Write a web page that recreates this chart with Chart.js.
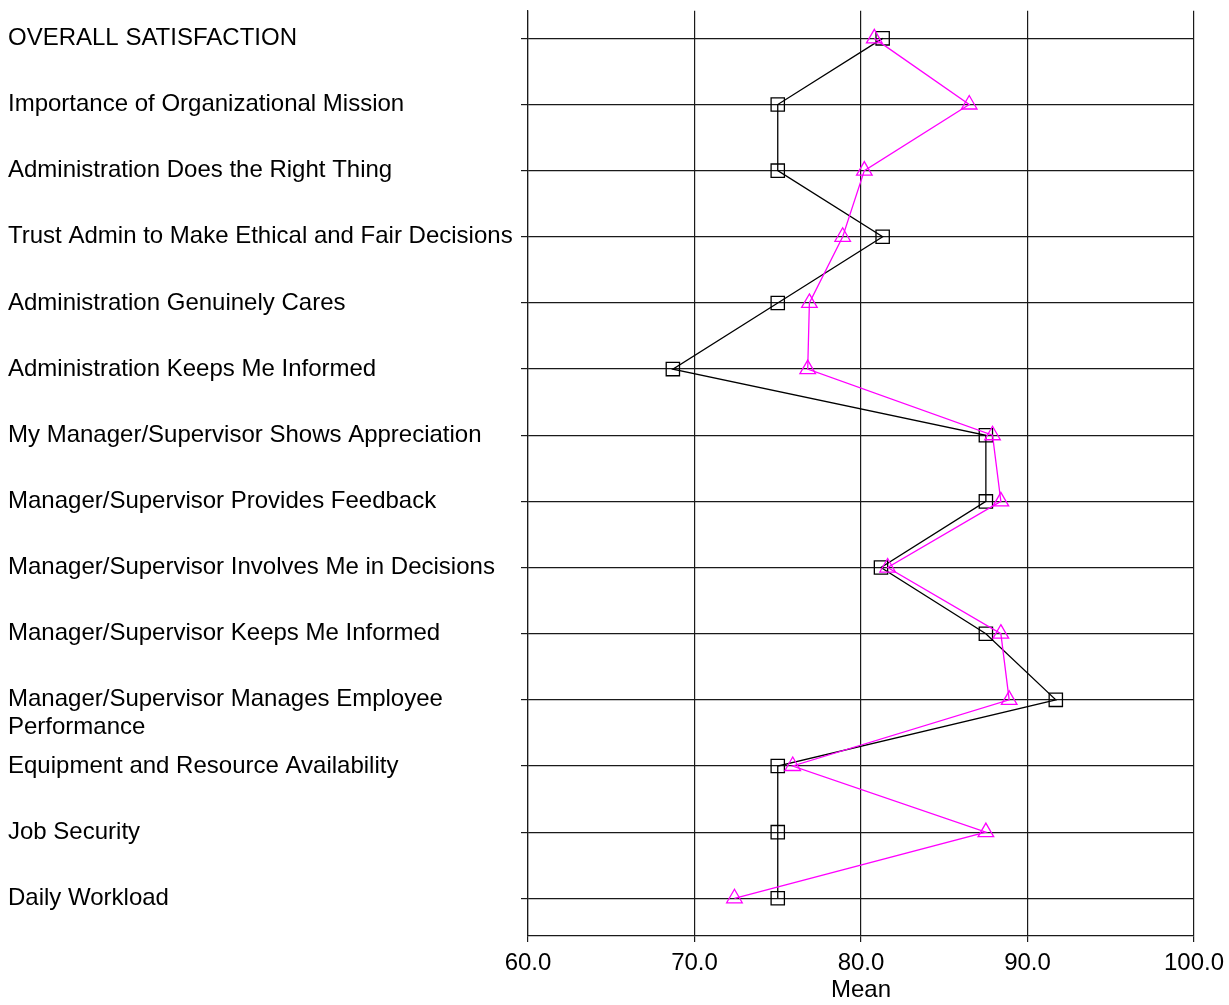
<!DOCTYPE html>
<html>
<head>
<meta charset="utf-8">
<script src="https://cdn.jsdelivr.net/npm/chart.js@4"></script>
<style>
  html, body { margin: 0; padding: 0; background: #fff; }
  #wrap { width: 1229px; height: 1005px; position: relative; }
</style>
</head>
<body>
<div id="wrap"><canvas id="c" width="1229" height="1005"></canvas></div>
<script>
const categories = [
  "OVERALL SATISFACTION",
  "Importance of Organizational Mission",
  "Administration Does the Right Thing",
  "Trust Admin to Make Ethical and Fair Decisions",
  "Administration Genuinely Cares",
  "Administration Keeps Me Informed",
  "My Manager/Supervisor Shows Appreciation",
  "Manager/Supervisor Provides Feedback",
  "Manager/Supervisor Involves Me in Decisions",
  "Manager/Supervisor Keeps Me Informed",
  ["", "Manager/Supervisor Manages Employee", "Performance"],
  "Equipment and Resource Availability",
  "Job Security",
  "Daily Workload"
];
const blackSeries = [81.3, 75.0, 75.0, 81.3, 75.0, 68.7, 87.5, 87.5, 81.2, 87.5, 91.7, 75.0, 75.0, 75.0];
const magentaSeries = [80.8, 86.5, 80.2, 78.9, 76.9, 76.8, 87.9, 88.4, 81.6, 88.4, 88.9, 75.9, 87.5, 72.4];
const xTicks = [60, 70, 80, 90, 100];
const xTitle = "Mean";

const FONT = "'Liberation Sans', Arial, Helvetica, sans-serif";
const toPoints = arr => arr.map((v, i) => ({ x: v, y: i }));

new Chart(document.getElementById('c'), {
  type: 'line',
  data: {
    datasets: [
      {
        label: 'Group B',
        data: toPoints(magentaSeries),
        borderColor: '#ff00ff',
        backgroundColor: 'rgba(0,0,0,0)',
        borderWidth: 1.3,
        pointStyle: 'triangle',
        pointRadius: 9,
        pointBorderWidth: 1.3,
        pointBorderColor: '#ff00ff',
        pointBackgroundColor: 'rgba(0,0,0,0)',
        tension: 0,
        fill: false
      },
      {
        label: 'Group A',
        data: toPoints(blackSeries),
        borderColor: '#000000',
        backgroundColor: 'rgba(0,0,0,0)',
        borderWidth: 1.3,
        pointStyle: 'rect',
        pointRadius: 9.4,
        pointBorderWidth: 1.3,
        pointBorderColor: '#000000',
        pointBackgroundColor: 'rgba(0,0,0,0)',
        tension: 0,
        fill: false
      }
    ]
  },
  options: {
    indexAxis: 'y',
    responsive: false,
    animation: false,
    devicePixelRatio: 1,
    layout: { padding: { left: 8, right: 35, top: 10, bottom: 0 } },
    plugins: { legend: { display: false }, tooltip: { enabled: false } },
    scales: {
      x: {
        type: 'linear',
        position: 'bottom',
        min: xTicks[0],
        max: xTicks[xTicks.length - 1],
        afterBuildTicks: s => { s.ticks = xTicks.map(v => ({ value: v })); },
        afterFit: s => { s.height = 69; s.paddingLeft = 0; s.paddingRight = 0; },
        ticks: {
          color: '#000',
          font: { family: FONT, size: 24, lineHeight: 1.2 },
          padding: 7,
          maxRotation: 0,
          callback: v => Number(v).toFixed(1)
        },
        grid: { color: '#1a1a1a', lineWidth: 1.2, tickLength: 6, drawTicks: true },
        border: { display: true, color: '#1a1a1a', width: 1.2 },
        title: {
          display: true,
          text: xTitle,
          color: '#000',
          font: { family: FONT, size: 24, lineHeight: 1.2 },
          padding: { top: 0, bottom: 0 }
        }
      },
      y: {
        type: 'linear',
        position: 'left',
        reverse: true,
        min: -0.418,
        max: 13.57,
        afterBuildTicks: s => { s.ticks = categories.map((_, i) => ({ value: i })); },
        afterFit: s => { s.width = 520; s.paddingTop = 0; s.paddingBottom = 0; },
        ticks: {
          color: '#000',
          crossAlign: 'far',
          autoSkip: false,
          font: { family: FONT, size: 24, lineHeight: 1.15 },
          callback: v => categories[v]
        },
        grid: { color: '#1a1a1a', lineWidth: 1.2, tickLength: 7, drawTicks: true },
        border: { display: true, color: '#1a1a1a', width: 1.2 }
      }
    }
  }
});
</script>
</body>
</html>
